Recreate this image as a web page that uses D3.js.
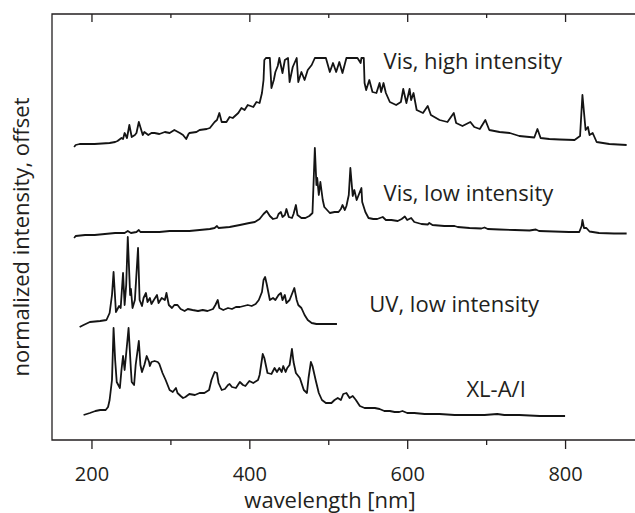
<!DOCTYPE html>
<meta charset="utf-8">
<style>
body { margin: 0; background: #fff; overflow: hidden; }
svg { display: block; }
text { font-family: 'Open Sans', sans-serif; fill: #231f20; }
.frame { fill: none; stroke: #231f20; stroke-width: 1.3; }
.tick line { stroke: #231f20; stroke-width: 1.3; }
.spec { fill: none; stroke: #141414; stroke-width: 1.8; stroke-linejoin: round; }
</style>
<body>
<svg width="635" height="513"></svg>
<script src="https://cdn.jsdelivr.net/npm/d3@7"></script>
<script>

// series names, bottom to top
var names = ["XL-A/I", "UV, low intensity", "Vis, low intensity", "Vis, high intensity"];
// vertical offset of each trace
var offsets = [0.24, 1.16, 2.06, 2.95];

// wavelength [nm] and normalized intensity
var xlWave = [190,198,205,211,218,221,223,226,228,230,232,236,238,240,242,245,247,250,251,254,256,260,262,264,267,270,273,274,276,280,284,286,290,294,299,303,307,309,313,316,319,324,331,337,343,349,352,356,359,361,365,369,373,375,378,383,388,392,395,400,405,411,413,417,419,423,428,432,435,438,441,443,446,448,451,454,456,459,464,469,473,475,478,480,484,488,492,497,504,508,512,516,519,523,527,531,535,540,546,552,559,565,571,578,584,590,594,600,609,622,641,660,679,698,714,723,742,768,800];
var xlVal = [0.01,0.03,0.05,0.06,0.06,0.09,0.16,0.36,0.88,0.56,0.34,0.28,0.46,0.60,0.46,0.71,0.88,0.46,0.34,0.31,0.51,0.75,0.51,0.44,0.51,0.60,0.54,0.50,0.54,0.55,0.54,0.52,0.43,0.36,0.26,0.24,0.28,0.23,0.20,0.18,0.19,0.22,0.21,0.23,0.23,0.26,0.36,0.44,0.43,0.33,0.26,0.27,0.31,0.32,0.29,0.28,0.34,0.31,0.30,0.35,0.33,0.36,0.41,0.62,0.58,0.43,0.42,0.48,0.44,0.48,0.44,0.50,0.44,0.48,0.51,0.67,0.54,0.43,0.38,0.26,0.23,0.38,0.54,0.50,0.36,0.23,0.16,0.13,0.13,0.16,0.18,0.16,0.22,0.23,0.18,0.20,0.16,0.10,0.08,0.08,0.08,0.07,0.05,0.05,0.04,0.04,0.05,0.03,0.03,0.02,0.02,0.01,0.01,0.01,0.02,0.01,0.01,0.00,0.00];

var uvWave = [185,190,198,211,219,223,226,228,231,235,237,240,242,244,246,249,250,252,255,259,261,264,266,269,271,274,276,279,283,285,289,293,295,298,302,305,309,313,318,322,328,335,341,347,354,357,360,362,367,373,378,383,388,393,398,403,408,412,416,418,420,422,426,430,433,437,440,442,445,447,451,454,457,460,462,466,470,474,479,485,495,511];
var uvVal = [-0.03,-0.01,0.02,0.03,0.04,0.11,0.29,0.52,0.12,0.18,0.16,0.51,0.19,0.39,0.87,0.29,0.35,0.16,0.24,0.76,0.24,0.18,0.26,0.31,0.22,0.26,0.20,0.24,0.29,0.21,0.26,0.24,0.31,0.19,0.16,0.19,0.19,0.15,0.13,0.15,0.14,0.13,0.14,0.13,0.15,0.19,0.24,0.16,0.14,0.16,0.15,0.17,0.17,0.18,0.19,0.18,0.20,0.24,0.32,0.44,0.47,0.40,0.24,0.26,0.24,0.29,0.31,0.24,0.29,0.21,0.24,0.30,0.36,0.24,0.19,0.16,0.09,0.04,0.01,0.00,0.00,0.00];

var visLoWave = [178,180,192,204,217,230,242,246,250,257,260,262,274,286,299,312,324,337,350,356,359,361,375,388,400,407,413,418,422,426,430,435,437,440,442,445,447,450,454,456,459,461,466,471,476,480,483,485,486,488,490,493,495,502,508,513,516,518,521,523,526,528,531,533,536,538,542,543,547,551,557,562,569,573,580,588,593,597,600,605,609,618,626,628,632,647,660,664,679,694,698,702,717,736,755,763,767,786,805,818,821,822,824,827,831,843,862,878];
var visLoVal = [-0.04,-0.02,-0.01,-0.01,0,0.01,0.01,0.03,0.01,0.02,0.04,0.02,0.02,0.02,0.03,0.03,0.03,0.04,0.05,0.06,0.08,0.06,0.07,0.09,0.11,0.12,0.15,0.20,0.23,0.18,0.15,0.16,0.20,0.22,0.17,0.19,0.25,0.17,0.16,0.20,0.29,0.19,0.16,0.16,0.18,0.21,0.86,0.49,0.56,0.39,0.52,0.34,0.27,0.21,0.22,0.22,0.25,0.29,0.24,0.28,0.39,0.66,0.38,0.44,0.34,0.38,0.46,0.32,0.22,0.16,0.15,0.15,0.17,0.14,0.14,0.13,0.15,0.175,0.14,0.16,0.12,0.10,0.095,0.11,0.09,0.08,0.08,0.07,0.06,0.055,0.065,0.05,0.045,0.04,0.035,0.045,0.03,0.025,0.02,0.02,0.08,0.14,0.06,0.06,0.025,0.01,0.005,0.005];

var visHiWave = [178,180,185,204,223,230,233,238,240,242,245,248,251,255,257,260,265,267,272,276,280,286,293,299,305,312,316,320,323,324,333,337,346,350,356,359,362,365,371,375,379,386,390,394,398,405,409,413,416,418,419,421,426,428,431,433,436,438,442,445,449,451,455,460,462,466,470,474,479,483,497,502,506,510,514,518,523,537,541,542,545,546,548,552,556,561,565,567,570,573,578,586,592,595,599,603,605,608,612,620,626,630,641,651,659,662,670,680,685,692,699,704,717,730,742,761,765,769,780,793,812,819,822,826,829,831,835,840,856,878];
var visHiVal = [-0.02,0,0.01,0.01,0.02,0.03,0.04,0.07,0.06,0.12,0.07,0.20,0.08,0.10,0.12,0.23,0.10,0.13,0.10,0.12,0.12,0.11,0.13,0.12,0.15,0.12,0.10,0.06,0.11,0.12,0.13,0.15,0.16,0.17,0.23,0.25,0.32,0.23,0.23,0.28,0.27,0.32,0.37,0.35,0.40,0.38,0.43,0.42,0.52,0.65,0.85,0.87,0.87,0.57,0.65,0.73,0.79,0.87,0.72,0.85,0.87,0.63,0.78,0.87,0.63,0.73,0.65,0.75,0.80,0.87,0.87,0.73,0.82,0.73,0.83,0.72,0.87,0.87,0.82,0.87,0.87,0.62,0.55,0.65,0.53,0.52,0.62,0.53,0.62,0.52,0.43,0.40,0.43,0.56,0.42,0.56,0.45,0.52,0.35,0.32,0.39,0.30,0.25,0.23,0.32,0.22,0.19,0.23,0.18,0.16,0.25,0.15,0.13,0.12,0.09,0.075,0.16,0.07,0.06,0.055,0.05,0.09,0.50,0.15,0.18,0.10,0.12,0.03,0.01,0.00];

var majorTicks = [200, 400, 600, 800];
var minorTicks = [300, 500, 700];

var svg = d3.select("svg");

var x = d3.scaleLinear().domain([150, 900]).range([52, 644]);
var y = d3.scaleLinear().domain([0, 4.26]).range([440, 14]);

var series = [
  {wave: xlWave, val: xlVal},
  {wave: uvWave, val: uvVal},
  {wave: visLoWave, val: visLoVal},
  {wave: visHiWave, val: visHiVal}
];

// frame: left, top and bottom (right side runs off the picture)
var fx0 = x(150), fx1 = x(900), fy0 = y(4.26), fy1 = y(0);
svg.append("path").attr("class", "frame")
    .attr("d", "M" + fx1 + "," + fy0 + "H" + fx0 + "V" + fy1 + "H" + fx1);

// bottom ticks point out, top ticks point in
var bottomMajor = svg.append("g").attr("transform", "translate(0," + fy1 + ")")
    .call(d3.axisBottom(x).tickValues(majorTicks).tickSize(9).tickPadding(18).tickFormat(d3.format("d")));
svg.append("g").attr("transform", "translate(0," + fy1 + ")")
    .call(d3.axisBottom(x).tickValues(minorTicks).tickSize(5).tickFormat(""));
svg.append("g").attr("transform", "translate(0," + fy0 + ")")
    .call(d3.axisBottom(x).tickValues(majorTicks).tickSize(8).tickFormat(""));
svg.append("g").attr("transform", "translate(0," + fy0 + ")")
    .call(d3.axisBottom(x).tickValues(minorTicks).tickSize(4).tickFormat(""));
svg.selectAll(".domain").remove();

bottomMajor.selectAll("text")
    .style("font-family", "'Open Sans', sans-serif")
    .style("font-size", "20px")
    .attr("fill", "#231f20");

var line = d3.line()
    .x(function(d) { return x(d[0]); })
    .y(function(d) { return y(d[1]); });

series.forEach(function(s, i) {
  var pts = s.wave.map(function(w, j) { return [w, s.val[j] + offsets[i]]; });
  svg.append("path").attr("class", "spec").attr("d", line(pts));
});

// trace labels
var labelAt = [[675, 0.43], [552, 1.28], [570, 2.39], [570, 3.71]];
names.forEach(function(n, i) {
  svg.append("text")
      .attr("x", x(labelAt[i][0]))
      .attr("y", y(labelAt[i][1]))
      .style("font-size", "22px")
      .text(n);
});

svg.append("text")
    .attr("x", 330).attr("y", 508)
    .attr("text-anchor", "middle")
    .style("font-size", "22px")
    .text("wavelength [nm]");

svg.append("text")
    .attr("transform", "translate(29,237) rotate(-90)")
    .attr("text-anchor", "middle")
    .style("font-size", "22px")
    .text("normalized intensity, offset");

</script>
</body>
